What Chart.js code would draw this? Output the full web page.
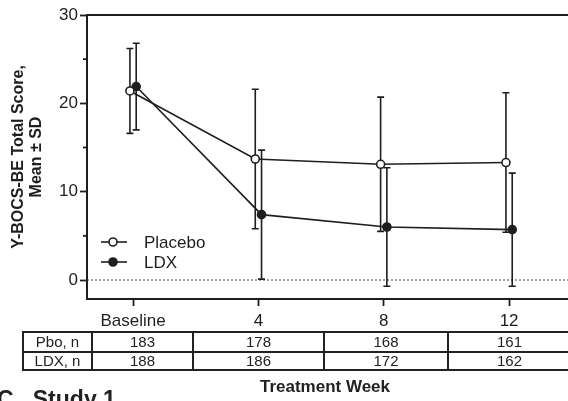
<!DOCTYPE html>
<html>
<head>
<meta charset="utf-8">
<script src="https://cdn.jsdelivr.net/npm/chart.js@4.4.1/dist/chart.umd.min.js"></script>
<style>
  body { margin: 0; background: #fff; font-family: "Liberation Sans", Arial, sans-serif; color: #222; }
  #wrap { position: relative; width: 568px; height: 401px; overflow: hidden; }
  #box { position: absolute; left: 0; top: 0; width: 568px; height: 401px; }
  table.counts { position: absolute; left: 22px; top: 331px; width: 575px; border-collapse: collapse; table-layout: fixed; font-size: 15px; }
  table.counts td { border: 2px solid #222; height: 16px; padding: 0; text-align: center; line-height: 16px; }
  table.counts td.last { padding-right: 27px; }
  .xtitle { position: absolute; left: 225px; width: 200px; top: 377px; text-align: center; font-weight: bold; font-size: 17px; }
  .panel { position: absolute; left: -3px; top: 386px; font-weight: bold; font-size: 23px; white-space: pre; }
</style>
</head>
<body>
<div id="wrap">
  <div id="box"><canvas id="yboChart"></canvas></div>
  <table class="counts" id="counts"></table>
  <div class="xtitle">Treatment Week</div>
  <div class="panel">C   Study 1</div>
</div>
<script>
const weeks = [0, 4, 8, 12];
const weekLabels = ['Baseline', '4', '8', '12'];
const placeboMean = [21.4, 13.7, 13.1, 13.3];
const placeboSD = [4.8, 7.9, 7.6, 7.9];
const ldxMean = [21.9, 7.4, 6.0, 5.7];
const ldxSD = [4.9, 7.3, 6.7, 6.4];
const pboN = [183, 178, 168, 161];
const ldxN = [188, 186, 172, 162];
const yTicks = [0, 5, 10, 15, 20, 25, 30];

const ink = '#1e1e1e';
const dodge = 0.1;

// n-table under the axis
const colWidths = [69, 101, 131, 124, 150];
const cells = arr => arr.map((n, i) => '<td' + (i === arr.length - 1 ? ' class="last"' : '') + '>' + n + '</td>').join('');
let html = '<colgroup>' + colWidths.map(w => '<col style="width:' + w + 'px">').join('') + '</colgroup>';
html += '<tr style="height:20px"><td>Pbo, n</td>' + cells(pboN) + '</tr>';
html += '<tr style="height:17px"><td>LDX, n</td>' + cells(ldxN) + '</tr>';
document.getElementById('counts').innerHTML = html;

const sdFor = [placeboSD, ldxSD];

const extras = {
  id: 'extras',
  beforeDatasetsDraw(chart) {
    const { ctx, chartArea, scales: { x, y } } = chart;
    ctx.save();
    // frame top line
    ctx.strokeStyle = ink;
    ctx.lineWidth = 2;
    ctx.beginPath();
    ctx.moveTo(chartArea.left, chartArea.top);
    ctx.lineTo(chartArea.right, chartArea.top);
    ctx.stroke();
    // dotted zero line
    ctx.lineWidth = 1;
    ctx.setLineDash([2, 2]);
    ctx.strokeStyle = '#444';
    ctx.beginPath();
    ctx.moveTo(chartArea.left, y.getPixelForValue(0));
    ctx.lineTo(chartArea.right, y.getPixelForValue(0));
    ctx.stroke();
    ctx.setLineDash([]);
    // minor y ticks
    ctx.strokeStyle = ink;
    ctx.lineWidth = 1.8;
    yTicks.filter(v => v % 10 !== 0).forEach(v => {
      const py = y.getPixelForValue(v);
      ctx.beginPath();
      ctx.moveTo(chartArea.left - 4, py);
      ctx.lineTo(chartArea.left, py);
      ctx.stroke();
    });
    // error bars
    ctx.lineWidth = 1.6;
    chart.data.datasets.forEach((ds, i) => {
      const sd = sdFor[i];
      ds.data.forEach((pt, j) => {
        const px = x.getPixelForValue(pt.x);
        const top = y.getPixelForValue(pt.y + sd[j]);
        const bot = y.getPixelForValue(pt.y - sd[j]);
        ctx.beginPath();
        ctx.moveTo(px, top); ctx.lineTo(px, bot);
        ctx.moveTo(px - 3.5, top); ctx.lineTo(px + 3.5, top);
        ctx.moveTo(px - 3.5, bot); ctx.lineTo(px + 3.5, bot);
        ctx.stroke();
      });
    });
    ctx.restore();
  },
  afterDatasetsDraw(chart) {
    const { ctx, chartArea } = chart;
    ctx.save();
    ctx.font = '17px "Liberation Sans", Arial, sans-serif';
    ctx.textBaseline = 'middle';
    chart.data.datasets.forEach((ds, i) => {
      const ly = chartArea.top + 227 + i * 20;
      const lx = chartArea.left + 14;
      ctx.strokeStyle = ink;
      ctx.lineWidth = 1.6;
      ctx.beginPath();
      ctx.moveTo(lx, ly); ctx.lineTo(lx + 26, ly);
      ctx.stroke();
      ctx.beginPath();
      ctx.arc(lx + 12, ly, 4, 0, Math.PI * 2);
      ctx.fillStyle = ds.pointBackgroundColor;
      ctx.fill();
      ctx.stroke();
      ctx.fillStyle = ink;
      ctx.fillText(ds.label, lx + 43, ly + 1);
    });
    ctx.restore();
  }
};

new Chart(document.getElementById('yboChart'), {
  type: 'line',
  data: {
    datasets: [{
      label: 'Placebo',
      data: weeks.map((w, i) => ({ x: w - dodge, y: placeboMean[i] })),
      borderColor: ink,
      borderWidth: 1.6,
      pointRadius: 4,
      pointBorderWidth: 1.6,
      pointBorderColor: ink,
      pointBackgroundColor: '#ffffff',
      tension: 0
    }, {
      label: 'LDX',
      data: weeks.map((w, i) => ({ x: w + dodge, y: ldxMean[i] })),
      borderColor: ink,
      borderWidth: 1.6,
      pointRadius: 4,
      pointBorderWidth: 1.6,
      pointBorderColor: ink,
      pointBackgroundColor: ink,
      tension: 0
    }]
  },
  options: {
    responsive: true,
    maintainAspectRatio: false,
    animation: false,
    layout: { autoPadding: false, padding: { top: 15, right: 0, left: 0, bottom: 62 } },
    plugins: { legend: { display: false }, tooltip: { enabled: false } },
    scales: {
      x: {
        type: 'linear',
        min: -1.47,
        max: 13.88,
        afterBuildTicks: s => { s.ticks = weeks.map(v => ({ value: v })); },
        afterFit: s => { s.height = 40; },
        grid: { drawOnChartArea: false, tickLength: 7, tickWidth: 1.8, tickColor: ink },
        border: { color: ink, width: 2 },
        ticks: {
          color: ink,
          padding: 5,
          font: { family: '"Liberation Sans", Arial, sans-serif', size: 17 },
          callback: v => weekLabels[weeks.indexOf(v)]
        }
      },
      y: {
        min: -2.15,
        max: 30,
        afterBuildTicks: s => { s.ticks = yTicks.map(v => ({ value: v })); },
        afterFit: s => { s.width = 87; },
        grid: {
          drawOnChartArea: false,
          tickLength: 7,
          tickWidth: 1.8,
          tickColor: c => (c.tick && c.tick.value % 10 === 0) ? ink : 'rgba(0,0,0,0)'
        },
        border: { color: ink, width: 2 },
        ticks: {
          color: ink,
          padding: 2,
          font: { family: '"Liberation Sans", Arial, sans-serif', size: 17 },
          callback: v => (v % 10 === 0 ? String(v) : '')
        },
        title: {
          display: true,
          text: ['Y-BOCS-BE Total Score,', 'Mean \u00b1 SD'],
          color: ink,
          padding: { top: 9, bottom: 0 },
          font: { family: '"Liberation Sans", Arial, sans-serif', size: 16, weight: 'bold', lineHeight: 1.15 }
        }
      }
    }
  },
  plugins: [extras]
});
</script>
</body>
</html>
